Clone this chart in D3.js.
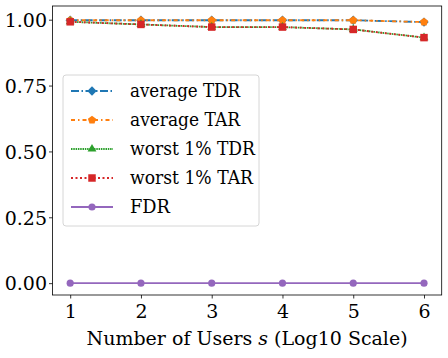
<!DOCTYPE html>
<html>
<head>
<meta charset="utf-8">
<script src="https://cdn.jsdelivr.net/npm/d3@7"></script>
<style>
  body { margin: 0; background: #fff; }
  svg text { font-family: 'DejaVu Serif', serif !important; fill: #000; }
</style>
</head>
<body>
<div id="chart"></div>
<script>
// Data
const users = [1, 2, 3, 4, 5, 6];
const avgTDR = [0.998, 0.998, 0.998, 0.998, 0.998, 0.991];
const avgTAR = [0.998, 0.998, 0.998, 0.998, 0.998, 0.991];
const worstTDR = [0.992, 0.982, 0.972, 0.972, 0.963, 0.932];
const worstTAR = [0.992, 0.982, 0.972, 0.972, 0.963, 0.932];
const fdr = [0, 0, 0, 0, 0, 0];
const yTicks = [0, 0.25, 0.5, 0.75, 1.0];

const serif = "'DejaVu Serif', serif";

// pentagon marker (not built into d3)
const symbolPentagon = {
  draw(ctx, size) {
    const r = Math.sqrt(size / 2.38);
    for (let i = 0; i < 5; i++) {
      const a = -Math.PI / 2 + i * 2 * Math.PI / 5;
      if (i === 0) ctx.moveTo(r * Math.cos(a), r * Math.sin(a));
      else ctx.lineTo(r * Math.cos(a), r * Math.sin(a));
    }
    ctx.closePath();
  }
};
const symbolDiamond = {
  draw(ctx, size) {
    const r = Math.sqrt(size / 2);
    ctx.moveTo(0, -r); ctx.lineTo(r, 0); ctx.lineTo(0, r); ctx.lineTo(-r, 0);
    ctx.closePath();
  }
};

const series = [
  { name: 'average TDR', values: avgTDR, color: '#1f77b4', dash: '8,2.5,1.5,2.5', symbol: symbolDiamond, size: 44 },
  { name: 'average TAR', values: avgTAR, color: '#ff7f0e', dash: '4,3,1.5,3', symbol: symbolPentagon, size: 44 },
  { name: 'worst 1% TDR', values: worstTDR, color: '#2ca02c', dash: '1.5,0.8', symbol: d3.symbolTriangle, size: 34 },
  { name: 'worst 1% TAR', values: worstTAR, color: '#d62728', dash: '2,2.5', symbol: d3.symbolSquare, size: 56 },
  { name: 'FDR', values: fdr, color: '#9467bd', dash: null, symbol: d3.symbolCircle, size: 40 }
];
const legendWidths = [110, 110, 125, 123, 40];

const W = 448, H = 358;
const margin = { top: 6, right: 6.3, bottom: 63, left: 52.5 };
const width = W - margin.left - margin.right,
  height = H - margin.top - margin.bottom;

const svg = d3.select('#chart').append('svg')
  .attr('width', W).attr('height', H);
const g = svg.append('g')
  .attr('transform', 'translate(' + margin.left + ',' + margin.top + ')');

const x = d3.scaleLinear().domain([0.75, 6.25]).range([0, width]);
const y = d3.scaleLinear().domain([-0.045, 1.052]).range([height, 0]);

// Axes
const xAxis = g.append('g')
  .attr('transform', 'translate(0,' + height + ')')
  .call(d3.axisBottom(x).tickValues(users).tickFormat(d3.format('d')).tickSize(3.5).tickPadding(3));
const yAxis = g.append('g')
  .call(d3.axisLeft(y).tickValues(yTicks).tickFormat(d3.format('.2f')).tickSize(3.5).tickPadding(2));
[xAxis, yAxis].forEach((a) => {
  a.attr('font-family', serif).attr('font-size', 19);
  a.select('.domain').remove();
  a.selectAll('text').style('font-family', serif).style('font-size', '19px').attr('fill', '#000');
  a.selectAll('line').attr('stroke', '#000').attr('stroke-width', 0.8);
});
xAxis.selectAll('text').attr('dy', '0.85em');
yAxis.selectAll('text').attr('dy', '0.36em');

// Lines and markers
const line = d3.line().x((d, i) => x(users[i])).y((d) => y(d));
series.forEach((s) => {
  g.append('path')
    .datum(s.values)
    .attr('fill', 'none')
    .attr('stroke', s.color)
    .attr('stroke-width', 1.8)
    .attr('stroke-dasharray', s.dash)
    .attr('d', line);
  g.selectAll(null)
    .data(s.values)
    .enter()
    .append('path')
    .attr('transform', (d, i) => 'translate(' + x(users[i]) + ',' + y(d) + ')')
    .attr('d', d3.symbol().type(s.symbol).size(s.size))
    .attr('fill', s.color);
});

// Frame
g.append('rect')
  .attr('width', width).attr('height', height)
  .attr('fill', 'none').attr('stroke', '#000').attr('stroke-width', 0.8);

// Legend
const legend = svg.append('g').attr('transform', 'translate(63,75)');
legend.append('rect')
  .attr('width', 196).attr('height', 151).attr('rx', 3)
  .attr('fill', '#fff').attr('fill-opacity', 0.8)
  .attr('stroke', '#ccc').attr('stroke-width', 0.8);
series.forEach((s, i) => {
  const row = legend.append('g').attr('transform', 'translate(0,' + (16 + i * 29) + ')');
  row.append('line')
    .attr('x1', 8).attr('x2', 50)
    .attr('stroke', s.color).attr('stroke-width', 1.8)
    .attr('stroke-dasharray', s.dash);
  row.append('path')
    .attr('transform', 'translate(29,0)')
    .attr('d', d3.symbol().type(s.symbol).size(s.size))
    .attr('fill', s.color);
  row.append('text')
    .attr('x', 67).attr('dy', '0.36em')
    .style('font-family', serif)
    .style('font-size', '18px')
    .attr('textLength', legendWidths[i])
    .attr('lengthAdjust', 'spacingAndGlyphs')
    .text(s.name);
});

// X axis label
const xl = svg.append('text')
  .attr('x', margin.left + width / 2)
  .attr('y', 345)
  .attr('text-anchor', 'middle')
  .attr('textLength', 321)
  .attr('lengthAdjust', 'spacingAndGlyphs')
  .style('font-family', serif)
  .style('font-size', '19px');
xl.append('tspan').text('Number of Users ');
xl.append('tspan').style('font-style', 'italic').text('s');
xl.append('tspan').text(' (Log10 Scale)');
</script>
</body>
</html>
